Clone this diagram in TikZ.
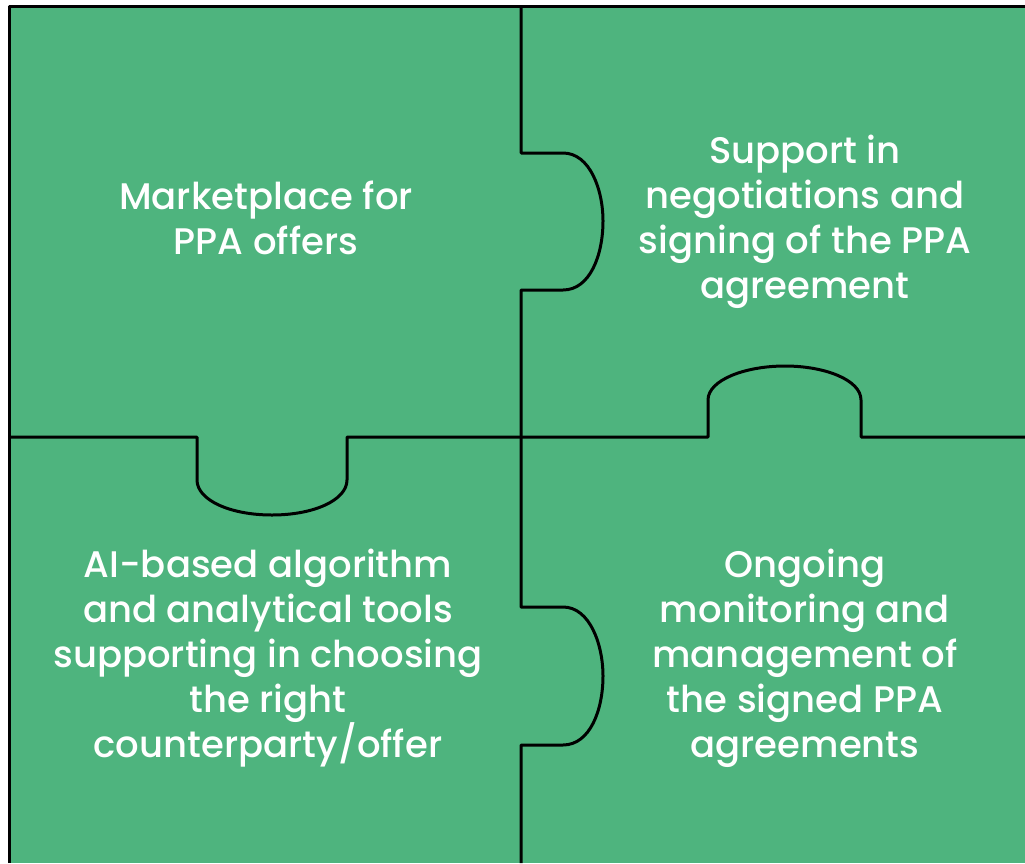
\documentclass[tikz,border=0pt]{standalone}
\usepackage{fontspec}
\setmainfont{Poppins Medium}
\definecolor{puzzlegreen}{RGB}{78,180,126}
\tikzset{
  piece/.style={text=white,align=center,font=\fontsize{37}{45}\selectfont},
  cut/.style={draw=black,line width=3pt}
}
\begin{document}
\begin{tikzpicture}[x=1pt,y=-1pt,line join=round,line cap=butt]
	\useasboundingbox (0,0) rectangle (1025,863);
	\coordinate (TL) at (8,7);
	\coordinate (BR) at (1025,863);
	\fill[puzzlegreen] (TL) rectangle (BR);
	% outer border
	\draw[cut] (9,863)--(9,6)--(1025,6);
	% vertical seam with two tabs
	\draw[cut] (521,6)--(521,153)--(563,153)
		.. controls (590,153) and (603,190) .. (603,221)
		.. controls (603,255) and (590,290) .. (563,290)
		--(521,290)--(521,607)--(563,607)
		.. controls (590,607) and (603,645) .. (603,676)
		.. controls (603,710) and (590,745) .. (563,745)
		--(521,745)--(521,863);
	% horizontal seam with hole and bump
	\draw[cut] (9,437)--(197,437)--(197,480)
		.. controls (197,500) and (230,515) .. (272,515)
		.. controls (314,515) and (347,500) .. (347,480)
		--(347,437)--(708,437)--(708,400)
		.. controls (708,380) and (745,366) .. (785,366)
		.. controls (825,366) and (861,380) .. (861,400)
		--(861,437)--(1025,437);
	% texts
	\node[piece] (market) at (266,218) {Marketplace for\\PPA offers};
	\node[piece] (support) at (805,222) {Support in\\negotiations and\\signing of the PPA\\agreement};
	\node[piece] (algo) at (268,658) {AI-based algorithm\\and analytical tools\\supporting in choosing\\the right\\counterparty/offer};
	\node[piece] (monitor) at (805,658) {Ongoing\\monitoring and\\management of\\the signed PPA\\agreements};
\end{tikzpicture}
\end{document}
